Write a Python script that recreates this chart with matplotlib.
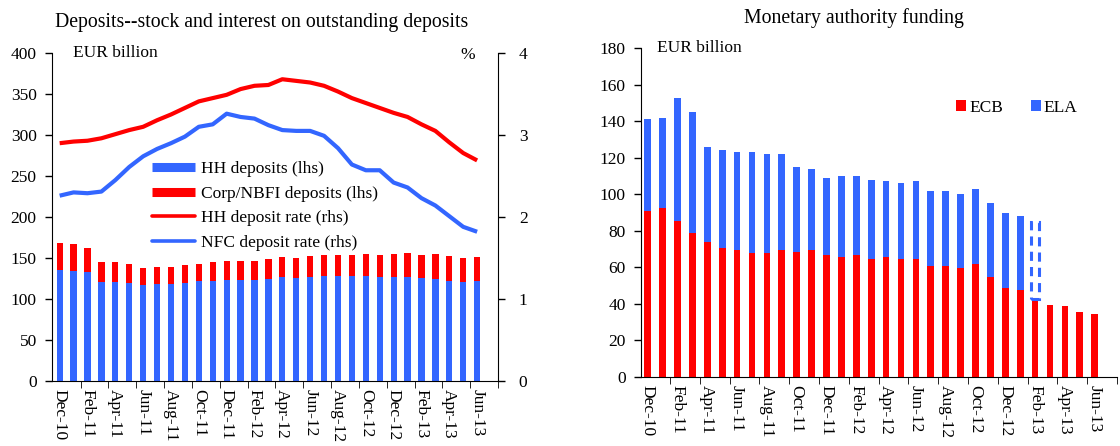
import matplotlib
matplotlib.use("Agg")
import matplotlib.pyplot as plt
from matplotlib.lines import Line2D
from matplotlib.patches import Patch
import numpy as np

plt.rcParams['font.family'] = ['Liberation Serif', 'DejaVu Serif']

months = ["Dec-10", "Jan-11", "Feb-11", "Mar-11", "Apr-11", "May-11", "Jun-11", "Jul-11",
          "Aug-11", "Sep-11", "Oct-11", "Nov-11", "Dec-11", "Jan-12", "Feb-12", "Mar-12",
          "Apr-12", "May-12", "Jun-12", "Jul-12", "Aug-12", "Sep-12", "Oct-12", "Nov-12",
          "Dec-12", "Jan-13", "Feb-13", "Mar-13", "Apr-13", "May-13", "Jun-13"]

# Left chart (EUR billion, lhs) and rates (%, rhs)
hh_deposits = [135.4, 134.1, 133.3, 120.3, 120.3, 119.1, 117.1, 118.3, 118.3, 119.9, 121.6,
               121.6, 123.2, 123.2, 123.2, 124.0, 126.5, 125.2, 127.2, 128.0, 128.0, 128.0,
               128.0, 127.2, 127.2, 127.2, 125.2, 124.0, 122.0, 120.4, 122.0]
corp_deposits = [32.5, 32.6, 28.5, 24.8, 24.8, 23.9, 21.1, 20.7, 20.7, 21.6, 21.4, 23.2,
                 23.1, 23.1, 23.1, 24.4, 24.7, 24.8, 25.2, 25.7, 25.7, 25.7, 26.5, 26.5,
                 27.3, 28.5, 28.5, 30.5, 30.4, 30.0, 29.2]
hh_rate = [2.90, 2.92, 2.93, 2.96, 3.01, 3.06, 3.10, 3.18, 3.25, 3.33, 3.41, 3.45, 3.49,
           3.56, 3.60, 3.61, 3.68, 3.66, 3.64, 3.60, 3.53, 3.45, 3.39, 3.33, 3.27, 3.22,
           3.13, 3.05, 2.91, 2.78, 2.69]
nfc_rate = [2.26, 2.30, 2.29, 2.31, 2.45, 2.61, 2.74, 2.83, 2.90, 2.98, 3.10, 3.13, 3.26,
            3.22, 3.20, 3.12, 3.06, 3.05, 3.05, 2.99, 2.84, 2.64, 2.57, 2.57, 2.42, 2.36,
            2.23, 2.14, 2.01, 1.88, 1.82]

# Right chart (EUR billion)
ecb = [91.0, 92.5, 85.5, 78.7, 73.7, 70.6, 69.6, 67.6, 67.6, 69.6, 68.5, 69.6, 66.7, 65.6,
       66.7, 64.5, 65.6, 64.5, 64.5, 60.7, 60.7, 59.6, 62.0, 54.5, 48.6, 47.5, 42.8, 39.5,
       38.6, 35.5, 34.6]
ela = [50.0, 49.5, 67.5, 66.3, 52.3, 53.4, 53.4, 55.4, 54.4, 52.4, 46.5, 44.4, 42.3, 44.4,
       43.3, 43.5, 41.4, 41.5, 42.5, 41.3, 41.3, 40.4, 41.0, 40.5, 41.4, 40.5]
ela_estimate = [42.2]  # Feb-13, dashed outline

BLUE = '#3366FF'
RED = '#FF0000'
FS = 12.5
TFS = 14.2

fig = plt.figure(figsize=(11.2, 4.46), dpi=100)

# ---------------- Left chart ----------------
ax = fig.add_axes([52/1120, 1-381/446, 446/1120, 328/446])
x = np.arange(len(months))
ax.bar(x, hh_deposits, width=0.45, color=BLUE, zorder=2)
ax.bar(x, corp_deposits, width=0.45, bottom=hh_deposits, color=RED, zorder=2)
ax.set_ylim(0, 400)
ax.set_yticks(np.arange(0, 401, 50))
ax.set_xlim(-0.55, 30.55)
ax2 = ax.twinx()
ax2.plot(x, hh_rate, color=RED, lw=3, solid_capstyle='butt', zorder=3)
ax2.plot(x, nfc_rate, color=BLUE, lw=3, solid_capstyle='butt', zorder=3)
ax2.set_ylim(0, 4)
ax2.set_yticks([0, 1, 2, 3, 4])
ax2.set_xlim(-0.55, 30.55)

for a in (ax, ax2):
    a.spines['top'].set_visible(False)
    a.tick_params(labelsize=FS, direction='out', length=5, width=1)
ax.spines['right'].set_visible(False)
ax2.spines['left'].set_visible(False)
ax2.spines['bottom'].set_visible(False)
ax2.tick_params(axis='y', pad=10)
ax.tick_params(axis='y', pad=6)

ax.set_xticks(x[::2])
ax.set_xticklabels(months[::2], rotation=-90, fontsize=FS)
ax.set_xticks(np.arange(-0.5, 30.6, 2) + 2, minor=True)
ax.tick_params(axis='x', which='major', length=0, pad=6)
ax.tick_params(axis='x', which='minor', length=5, direction='out')

ax.text(0.047, 1.0, "EUR billion", transform=ax.transAxes, fontsize=FS,
        ha='left', va='center')
ax.text(0.915, 0.995, "%", transform=ax.transAxes, fontsize=FS, ha='left', va='center')
fig.text(261.5/1120, 1-22/446, "Deposits--stock and interest on outstanding deposits",
         fontsize=TFS, ha='center', va='center')

handles = [Line2D([], [], color=BLUE, lw=6.5, solid_capstyle='butt'),
           Line2D([], [], color=RED, lw=6.5, solid_capstyle='butt'),
           Line2D([], [], color=RED, lw=2.6, solid_capstyle='round'),
           Line2D([], [], color=BLUE, lw=2.6, solid_capstyle='round')]
labels = ["HH deposits (lhs)", "Corp/NBFI deposits (lhs)", "HH deposit rate (rhs)",
          "NFC deposit rate (rhs)"]
fig.legend(handles, labels, loc='upper left', bbox_to_anchor=(152/1120, 1-161/446),
           frameon=False, fontsize=FS, handlelength=2.5, handletextpad=0.3,
           labelspacing=0.48, borderpad=0, borderaxespad=0)

# ---------------- Right chart ----------------
bx = fig.add_axes([641/1120, 1-376.7/446, 476/1120, 328.4/446])
bx.bar(x, ecb, width=0.45, color=RED, zorder=2)
xe = x[:len(ela)]
bx.bar(xe, ela, width=0.45, bottom=ecb[:len(ela)], color=BLUE, zorder=2)
xd = x[len(ela):len(ela)+len(ela_estimate)]
bx.bar(xd, ela_estimate, width=0.5, bottom=ecb[len(ela):len(ela)+len(ela_estimate)],
       fill=False, edgecolor=BLUE, linestyle=(0, (3, 2)), lw=2.2, zorder=3)
bx.set_ylim(0, 180)
bx.set_yticks(np.arange(0, 181, 20))
bx.set_xlim(-0.45, 30.6)
bx.spines['top'].set_visible(False)
bx.spines['right'].set_visible(False)
bx.tick_params(labelsize=FS, direction='out', length=5, width=1)
bx.tick_params(axis='y', pad=6)
bx.set_xticks(x[::2])
bx.set_xticklabels(months[::2], rotation=-90, fontsize=FS)
bx.set_xticks(np.arange(-0.5, 30.6, 2) + 2, minor=True)
bx.tick_params(axis='x', which='major', length=0, pad=6)
bx.tick_params(axis='x', which='minor', length=5, direction='out')
bx.text(0.034, 1.0, "EUR billion", transform=bx.transAxes, fontsize=FS, ha='left', va='center')
fig.text(854/1120, 1-18/446, "Monetary authority funding", fontsize=TFS,
         ha='center', va='center')

rh = [Patch(facecolor=RED, edgecolor='none'), Patch(facecolor=BLUE, edgecolor='none')]
fig.legend(rh, ["ECB", "ELA"], loc='center left', bbox_to_anchor=(956/1120, 1-108/446),
           ncol=2, frameon=False, fontsize=FS, handlelength=0.6, handleheight=0.6,
           handletextpad=0.15, columnspacing=1.6, borderpad=0, borderaxespad=0)

fig.savefig("out.png", dpi=100)
